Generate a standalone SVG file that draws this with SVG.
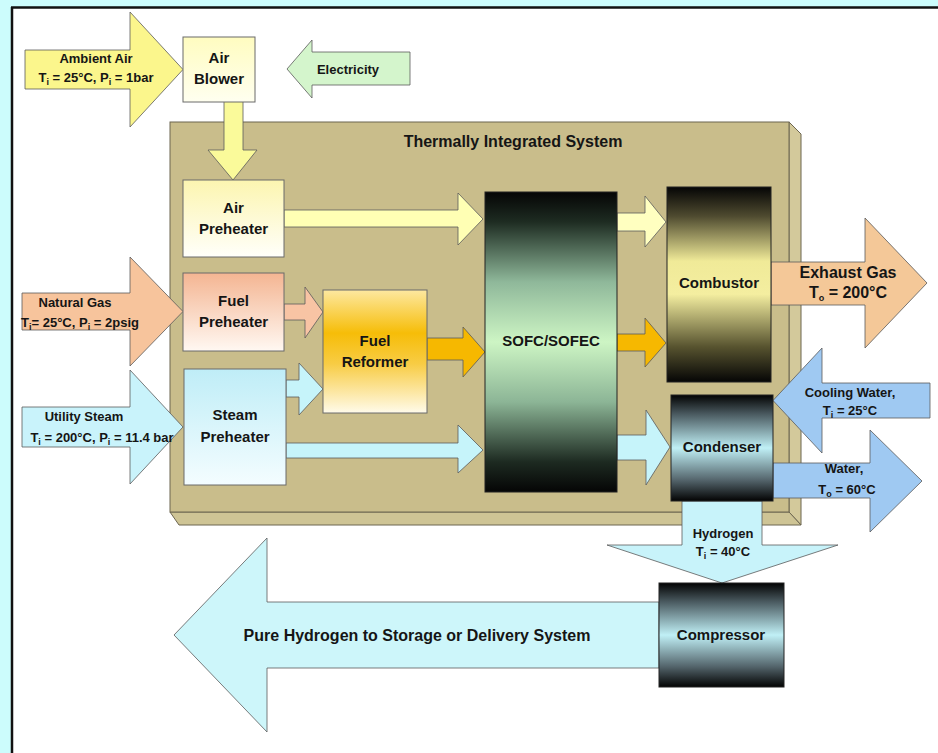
<svg xmlns="http://www.w3.org/2000/svg" width="938" height="753" viewBox="0 0 938 753">
  <defs>
    <style>
      .lbl { font-family: "Liberation Sans", Arial, sans-serif; font-weight: bold; fill: #151515; text-anchor: middle; }
      .node { font-size: 15px; }
      .flow { font-size: 13px; }
      .sub { font-size: 9px; }
      .edge { stroke: #5a5a5a; stroke-width: 0.8; stroke-linejoin: miter; }
      .box { stroke: #6a6a6a; stroke-width: 1; }
      .dark { stroke: #222; stroke-width: 1; }
    </style>
    <linearGradient id="gBlower" x1="0" y1="0" x2="0" y2="1">
      <stop offset="0" stop-color="#fffcc0"/>
      <stop offset="1" stop-color="#fffff0"/>
    </linearGradient>
    <linearGradient id="gAirPre" x1="0" y1="0" x2="0" y2="1">
      <stop offset="0" stop-color="#fcf5b0"/>
      <stop offset="1" stop-color="#fffffa"/>
    </linearGradient>
    <linearGradient id="gFuelPre" x1="0" y1="0" x2="0" y2="1">
      <stop offset="0" stop-color="#f4b592"/>
      <stop offset="1" stop-color="#fff8f2"/>
    </linearGradient>
    <linearGradient id="gSteamPre" x1="0" y1="0" x2="0" y2="1">
      <stop offset="0" stop-color="#bfedf7"/>
      <stop offset="1" stop-color="#f4fdff"/>
    </linearGradient>
    <linearGradient id="gReformer" x1="0" y1="0" x2="0" y2="1">
      <stop offset="0" stop-color="#fde8a0"/>
      <stop offset="0.35" stop-color="#f6bd08"/>
      <stop offset="0.6" stop-color="#f8cc44"/>
      <stop offset="1" stop-color="#fffbea"/>
    </linearGradient>
    <linearGradient id="gSofc" x1="0" y1="0" x2="0" y2="1">
      <stop offset="0" stop-color="#050505"/>
      <stop offset="0.1" stop-color="#1e2c22"/>
      <stop offset="0.3" stop-color="#8fb89a"/>
      <stop offset="0.5" stop-color="#cdf5c4"/>
      <stop offset="0.7" stop-color="#8cb596"/>
      <stop offset="0.9" stop-color="#1d2a21"/>
      <stop offset="1" stop-color="#050505"/>
    </linearGradient>
    <linearGradient id="gComb" x1="0" y1="0" x2="0" y2="1">
      <stop offset="0" stop-color="#050505"/>
      <stop offset="0.15" stop-color="#4f4b30"/>
      <stop offset="0.38" stop-color="#f0ea98"/>
      <stop offset="0.55" stop-color="#f4eea0"/>
      <stop offset="0.82" stop-color="#57532f"/>
      <stop offset="1" stop-color="#050505"/>
    </linearGradient>
    <linearGradient id="gCold" x1="0" y1="0" x2="0" y2="1">
      <stop offset="0" stop-color="#030303"/>
      <stop offset="0.18" stop-color="#4a5a60"/>
      <stop offset="0.5" stop-color="#c0f0f6"/>
      <stop offset="0.8" stop-color="#55666d"/>
      <stop offset="1" stop-color="#030303"/>
    </linearGradient>
  </defs>

  <!-- page frame -->
  <g id="frame">
    <rect x="0" y="0" width="938" height="753" fill="#ccfcfc"/>
    <rect x="12" y="7" width="926" height="746" fill="#ffffff"/>
    <line x1="11" y1="7.5" x2="938" y2="7.5" stroke="#111" stroke-width="2.5"/>
    <line x1="12" y1="7" x2="12" y2="753" stroke="#111" stroke-width="2.5"/>
  </g>

  <!-- thermally integrated enclosure (3-D slab) -->
  <g id="thermal-system">
    <polygon points="789,122 801,134 801,525 789,512" fill="#d3c99b" stroke="#6d6650" stroke-width="1"/>
    <polygon points="170,512 789,512 801,525 179,525" fill="#cec495" stroke="#6d6650" stroke-width="1"/>
    <rect x="170" y="122" width="619" height="390" fill="#c9bd8b" stroke="#6d6650" stroke-width="1"/>
    <text class="lbl" x="513" y="147" font-size="16">Thermally Integrated System</text>
  </g>

  <!-- block-arrow connectors -->
  <g id="connectors">
    <!-- inputs from the left -->
    <polygon class="edge" fill="#fbf68c" points="25,50 130,50 130,12 183,69.5 130,127 130,89 25,89"/>
    <polygon class="edge" fill="#d4f5cc" points="410,52 312,52 312,40 287,69 312,98 312,85 410,85"/>
    <polygon class="edge" fill="#f7c49c" points="22,293 130,293 130,257 183,311.5 130,366 130,330 22,330"/>
    <polygon class="edge" fill="#c9f3fb" points="22,407 130,407 130,370 183,427 130,484 130,447 22,447"/>
    <!-- internal flows -->
    <polygon class="edge" fill="#fafa9a" points="224,101 243,101 243,150 257,150 233,180 208,150 224,150"/>
    <polygon class="edge" fill="#ffffb4" points="284,210 458,210 458,193 483,219 458,245 458,227 284,227"/>
    <polygon class="edge" fill="#f8c4a4" points="284,304 305,304 305,287 323,312 305,338 305,320 284,320"/>
    <polygon class="edge" fill="#c6f4fa" points="286,380 299,380 299,363 323,389 299,415 299,397 286,397"/>
    <polygon class="edge" fill="#c6f4fa" points="286,443 458,443 458,425 483,450 458,473 458,458 286,458"/>
    <polygon class="edge" fill="#f6b800" points="427,338 463,338 463,327 485,352 463,377 463,360 427,360"/>
    <polygon class="edge" fill="#ffffc0" points="617,213 645,213 645,196 666,222 645,247 645,231 617,231"/>
    <polygon class="edge" fill="#f6b800" points="617,334 645,334 645,318 666,343 645,367 645,351 617,351"/>
    <polygon class="edge" fill="#c6f4fa" points="617,435 646,435 646,410 670,447 646,485 646,460 617,460"/>
    <!-- outputs to the right -->
    <polygon class="edge" fill="#f4c898" points="771,262 865,262 865,218 927,283 865,348 865,305 771,305"/>
    <polygon class="edge" fill="#9fc9f2" points="930,383 822,383 822,348 773,400.5 822,453 822,418 930,418"/>
    <polygon class="edge" fill="#9fc9f2" points="773,463 870,463 870,430 922,481 870,532 870,498 773,498"/>
    <!-- hydrogen product -->
    <polygon class="edge" fill="#c8f3fa" points="682,501 762,501 762,545 838,545 722,583 607,545 682,545"/>
    <polygon class="edge" fill="#cdf6fa" points="659,602 267,602 267,538 174,635 267,732 267,668 659,668"/>

    <!-- flow labels -->
    <text class="lbl flow" x="96" y="63">Ambient Air</text>
    <text class="lbl flow" x="96" y="82">T<tspan class="sub" dy="3">i</tspan><tspan dy="-3"> = 25°C, P</tspan><tspan class="sub" dy="3">i</tspan><tspan dy="-3"> = 1bar</tspan></text>
    <text class="lbl flow" x="348" y="74">Electricity</text>
    <text class="lbl flow" x="75" y="307">Natural Gas</text>
    <text class="lbl flow" x="80" y="327">T<tspan class="sub" dy="3">i</tspan><tspan dy="-3">= 25°C, P</tspan><tspan class="sub" dy="3">i</tspan><tspan dy="-3"> = 2psig</tspan></text>
    <text class="lbl flow" x="84" y="421">Utility Steam</text>
    <text class="lbl flow" x="102" y="442">T<tspan class="sub" dy="3">i</tspan><tspan dy="-3"> = 200°C, P</tspan><tspan class="sub" dy="3">i</tspan><tspan dy="-3"> = 11.4 bar</tspan></text>
    <text class="lbl" x="848" y="278" font-size="16">Exhaust Gas</text>
    <text class="lbl" x="848" y="298" font-size="16">T<tspan class="sub" font-size="10" dy="3">o</tspan><tspan dy="-3"> = 200°C</tspan></text>
    <text class="lbl flow" x="850" y="397">Cooling Water,</text>
    <text class="lbl flow" x="850" y="415">T<tspan class="sub" dy="3">i</tspan><tspan dy="-3"> = 25°C</tspan></text>
    <text class="lbl flow" x="844" y="473">Water,</text>
    <text class="lbl flow" x="847" y="494">T<tspan class="sub" dy="3">o</tspan><tspan dy="-3"> = 60°C</tspan></text>
    <text class="lbl flow" x="723" y="538">Hydrogen</text>
    <text class="lbl flow" x="723" y="556">T<tspan class="sub" dy="3">i</tspan><tspan dy="-3"> = 40°C</tspan></text>
    <text class="lbl" x="417" y="641" font-size="16">Pure Hydrogen to Storage or Delivery System</text>
  </g>

  <!-- process units -->
  <g id="air-blower">
    <rect class="box" x="183" y="37" width="72" height="65" fill="url(#gBlower)"/>
    <text class="lbl node" x="219" y="63">Air</text>
    <text class="lbl node" x="219" y="84">Blower</text>
  </g>
  <g id="air-preheater">
    <rect class="box" x="183" y="180" width="101" height="77" fill="url(#gAirPre)"/>
    <text class="lbl node" x="233.5" y="213">Air</text>
    <text class="lbl node" x="233.5" y="234">Preheater</text>
  </g>
  <g id="fuel-preheater">
    <rect class="box" x="183" y="273" width="101" height="78" fill="url(#gFuelPre)"/>
    <text class="lbl node" x="233.5" y="306">Fuel</text>
    <text class="lbl node" x="233.5" y="327">Preheater</text>
  </g>
  <g id="steam-preheater">
    <rect class="box" x="184" y="369" width="102" height="116" fill="url(#gSteamPre)"/>
    <text class="lbl node" x="235" y="420">Steam</text>
    <text class="lbl node" x="235" y="442">Preheater</text>
  </g>
  <g id="fuel-reformer">
    <rect class="box" x="323" y="290" width="104" height="123" fill="url(#gReformer)"/>
    <text class="lbl node" x="375" y="346">Fuel</text>
    <text class="lbl node" x="375" y="367">Reformer</text>
  </g>
  <g id="sofc">
    <rect class="dark" x="485" y="192" width="132" height="300" fill="url(#gSofc)"/>
    <text class="lbl node" x="551" y="346">SOFC/SOFEC</text>
  </g>
  <g id="combustor">
    <rect class="dark" x="667" y="187" width="104" height="195" fill="url(#gComb)"/>
    <text class="lbl node" x="719" y="288">Combustor</text>
  </g>
  <g id="condenser">
    <rect class="dark" x="671" y="395" width="102" height="106" fill="url(#gCold)"/>
    <text class="lbl node" x="722" y="452">Condenser</text>
  </g>
  <g id="compressor">
    <rect class="dark" x="659" y="583" width="125" height="104" fill="url(#gCold)"/>
    <text class="lbl node" x="721" y="640">Compressor</text>
  </g>
</svg>
